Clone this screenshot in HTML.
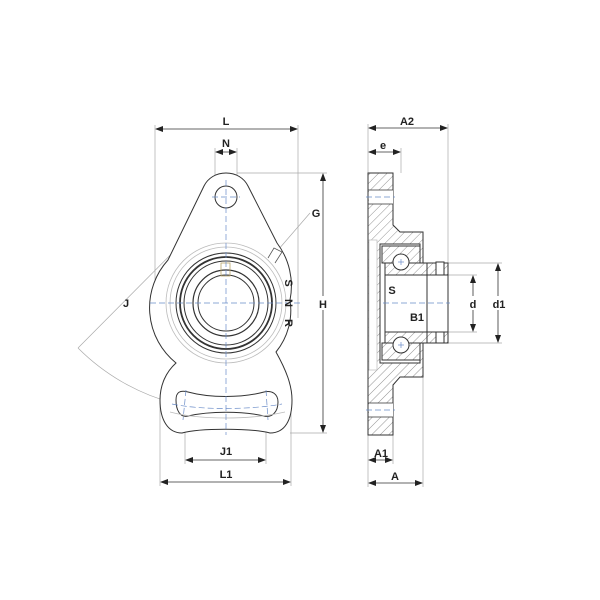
<!DOCTYPE html>
<html><head><style>
html,body{margin:0;padding:0;background:#fff}
svg{display:block}
text{font-family:"Liberation Sans",sans-serif;font-weight:bold;font-size:11px;fill:#222;text-anchor:middle}
</style></head><body>
<svg width="600" height="600" viewBox="0 0 600 600" xmlns="http://www.w3.org/2000/svg">
<defs>
<pattern id="h" width="6" height="6" patternUnits="userSpaceOnUse" patternTransform="rotate(45)">
<rect width="6" height="6" fill="#fff"/><line x1="0" y1="0" x2="0" y2="6" stroke="#777" stroke-width="0.8"/>
</pattern>
<marker id="a" markerWidth="8" markerHeight="6" refX="7" refY="3" orient="auto-start-reverse" markerUnits="userSpaceOnUse">
<path d="M0,0 L8,3 L0,6 z" fill="#222"/></marker>
</defs>
<g stroke="#aaa" stroke-width="0.7" fill="none">
<line x1="155" y1="125" x2="155" y2="300"/>
<line x1="298" y1="125" x2="298" y2="318"/>
<line x1="215" y1="148" x2="215" y2="176"/>
<line x1="237" y1="148" x2="237" y2="176"/>
<line x1="237" y1="173" x2="327" y2="173"/>
<line x1="290" y1="433" x2="327" y2="433"/>
<line x1="185" y1="395" x2="185" y2="464"/>
<line x1="266" y1="395" x2="266" y2="464"/>
<line x1="160" y1="400" x2="160" y2="486"/>
<line x1="291" y1="400" x2="291" y2="486"/>
<line x1="220" y1="205" x2="78" y2="348"/>
<path d="M78,348 A212,212 0 0 0 173,403"/>
<line x1="310" y1="213" x2="278" y2="250"/>
<line x1="368" y1="124" x2="368" y2="487"/>
<line x1="448" y1="124" x2="448" y2="263"/>
<line x1="401" y1="148" x2="401" y2="173"/>
<line x1="423" y1="377" x2="423" y2="487"/>
<line x1="393" y1="435" x2="393" y2="464"/>
<line x1="448" y1="263" x2="502" y2="263"/>
<line x1="448" y1="343" x2="502" y2="343"/>
<line x1="448" y1="275" x2="477" y2="275"/>
<line x1="448" y1="332" x2="477" y2="332"/>
</g>
<g stroke="#333" stroke-width="0.8" fill="none" marker-start="url(#a)" marker-end="url(#a)">
<line x1="156" y1="129" x2="297" y2="129"/>
<line x1="216" y1="152" x2="236" y2="152"/>
<line x1="323" y1="174" x2="323" y2="432"/>
<line x1="186" y1="460" x2="265" y2="460"/>
<line x1="161" y1="482" x2="290" y2="482"/>
<line x1="369" y1="128" x2="447" y2="128"/>
<line x1="369" y1="152" x2="400" y2="152"/>
<line x1="473" y1="276" x2="473" y2="331"/>
<line x1="498" y1="264" x2="498" y2="342"/>
<line x1="383" y1="300" x2="399" y2="300"/>
<line x1="386" y1="323" x2="447" y2="323"/>
<line x1="369" y1="460" x2="392" y2="460"/>
<line x1="369" y1="483" x2="422" y2="483"/>
</g>
<g stroke="#333" stroke-width="1" fill="#fff">
<path d="M226,173 C236,173 244,178 248,186 L277,243 A71,71 0 0 1 290,300 A66,66 0 0 1 276,352 C286,370 292,385 292,400 C292,420 285,433 270,433 C250,428 200,428 182,433 C168,433 160,420 160,400 C160,385 166,372 176,363 A71,71 0 0 1 168,260 L204,186 C208,178 216,173 226,173 Z"/>
<circle cx="226" cy="197" r="11"/>
<path d="M176,400 C176,392 180,390 188,392 C210,398 242,398 264,392 C272,390 278,394 278,402 C278,412 272,418 264,416 C242,411 210,411 188,416 C180,418 176,410 176,400 Z"/>
</g>
<g fill="none" stroke="#bbb" stroke-width="0.8">
<circle cx="226" cy="303" r="60"/>
<circle cx="226" cy="303" r="56"/>
<path d="M170,412 C200,420 250,420 285,412"/>
</g>
<g fill="none" stroke="#333">
<circle cx="226" cy="303" r="50" stroke-width="1"/>
<circle cx="226" cy="303" r="46" stroke-width="1.8"/>
<circle cx="226" cy="303" r="42" stroke-width="1"/>
<circle cx="226" cy="303" r="33" stroke-width="1.2"/>
<circle cx="226" cy="303" r="28" stroke-width="1"/>
<rect x="221" y="263" width="9" height="13" stroke="#b9a56a" stroke-width="0.8"/>
<path d="M268,258 L274,248 L282,252 L275,263" stroke="#555" stroke-width="0.8"/>
</g>
<g stroke="#6a8cc8" stroke-width="0.7" stroke-dasharray="6,3" fill="none">
<line x1="226" y1="180" x2="226" y2="435"/>
<line x1="212" y1="197" x2="240" y2="197"/>
<line x1="150" y1="303" x2="300" y2="303"/>
<path d="M172,404 C200,410 250,410 282,404"/>
<line x1="186" y1="390" x2="183" y2="420"/>
<line x1="266" y1="390" x2="268" y2="420"/>
</g>
<g>
<text x="289" y="287" transform="rotate(90 289 283)">S</text>
<text x="289" y="307" transform="rotate(90 289 303)">N</text>
<text x="289" y="327" transform="rotate(90 289 323)">R</text>
</g>
<!-- right view section -->
<g stroke="#333" stroke-width="1">
<path fill="url(#h)" d="M368,173 L393,173 L393,225 L400,232 L423,232 L423,377 L400,377 L393,385 L393,435 L368,435 Z"/>
<rect x="369" y="190" width="24" height="14" fill="#fff" stroke="none"/>
<rect x="369" y="403" width="24" height="14" fill="#fff" stroke="none"/>
<line x1="368" y1="190" x2="393" y2="190" stroke-width="0.7"/>
<line x1="368" y1="204" x2="393" y2="204" stroke-width="0.7"/>
<line x1="368" y1="403" x2="393" y2="403" stroke-width="0.7"/>
<line x1="368" y1="417" x2="393" y2="417" stroke-width="0.7"/>
<rect x="369" y="240" width="8" height="130" fill="#fff" stroke="#bbb" stroke-width="0.7"/>
<rect x="380" y="244" width="40" height="119" fill="#fff"/>
<rect x="382" y="246" width="38" height="17" fill="url(#h)"/>
<rect x="382" y="343" width="38" height="17" fill="url(#h)"/>
<rect x="385" y="263" width="63" height="12" fill="url(#h)"/>
<rect x="385" y="332" width="63" height="11" fill="url(#h)"/>
<rect x="385" y="275" width="63" height="57" fill="#fff"/>
<line x1="427" y1="263" x2="427" y2="343"/>
<circle cx="401" cy="262" r="8" fill="#fff"/>
<circle cx="401" cy="345" r="8" fill="#fff"/>
<rect x="436" y="262" width="8" height="13" fill="#fff"/>
<rect x="436" y="332" width="8" height="11" fill="#fff"/>
</g>
<g stroke="#6a8cc8" stroke-width="0.7" stroke-dasharray="6,3">
<line x1="366" y1="197" x2="395" y2="197"/>
<line x1="366" y1="410" x2="395" y2="410"/>
<line x1="383" y1="303" x2="450" y2="303"/>
</g>
<g stroke="#6a8cc8" stroke-width="0.7"><line x1="398" y1="262" x2="404" y2="262"/><line x1="401" y1="259" x2="401" y2="265"/><line x1="398" y1="345" x2="404" y2="345"/><line x1="401" y1="342" x2="401" y2="348"/></g>
<g>
<text x="226" y="125">L</text>
<text x="226" y="147">N</text>
<text x="316" y="217">G</text>
<rect x="316" y="296" width="14" height="14" fill="#fff"/>
<text x="323" y="308">H</text>
<text x="126" y="307">J</text>
<text x="226" y="455">J1</text>
<text x="226" y="478">L1</text>
<text x="407" y="125">A2</text>
<text x="383" y="149">e</text>
<text x="392" y="294">S</text>
<text x="417" y="321">B1</text>
<rect x="467" y="296" width="12" height="14" fill="#fff"/>
<text x="473" y="308">d</text>
<rect x="491" y="296" width="16" height="14" fill="#fff"/>
<text x="499" y="308">d1</text>
<text x="381" y="457">A1</text>
<text x="395" y="480">A</text>
</g>
</svg>
</body></html>
